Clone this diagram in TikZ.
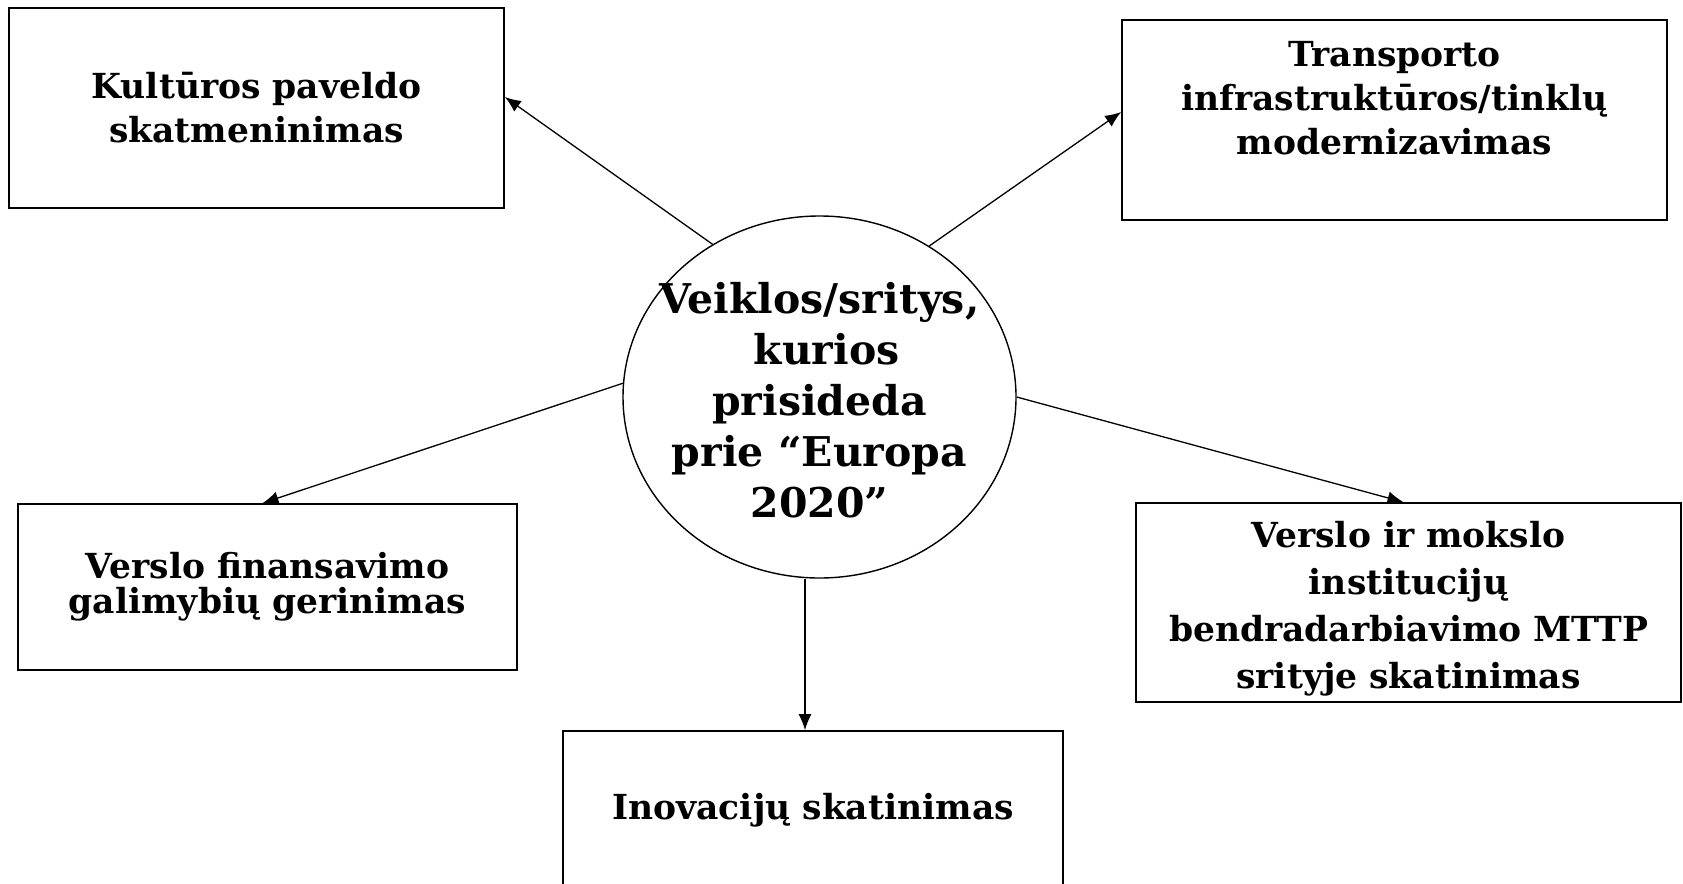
\documentclass[tikz,border=0pt]{standalone}
\usepackage{fontspec}
\setmainfont{DejaVu Serif}
\usetikzlibrary{shapes.geometric,arrows.meta}
\tikzset{
  box/.style={draw, line width=1.7pt, inner sep=0pt, align=center},
  hub/.style={draw, ellipse, line width=1.4pt, inner sep=0pt, minimum width=393pt, minimum height=362pt},
  txt/.style={inner sep=0pt, align=center},
  arr/.style={line width=1.3pt, -{Latex[length=16pt,width=13pt]}}
}
\begin{document}
\begin{tikzpicture}[x=1pt,y=-1pt,font=\bfseries\fontsize{34.5}{44}\selectfont]
		\useasboundingbox (0,0) rectangle (1683,883);
		%\draw[help lines] (0,0) grid[step=100] (1683,883);
		\node[hub] (veikla) at (819.5,397) {};
		\node[txt, font=\bfseries\fontsize{41}{51}\selectfont] (veiklatxt) at (819.5,400) {Veiklos/sritys,\\ \ kurios\\ prisideda\\ prie “Europa\\ 2020”};
		
		\node[box, minimum width=495pt, minimum height=200pt] (kultura) at (256.5,108) {Kultūros paveldo\\ skatmeninimas};%top left
		\node[box, minimum width=545pt, minimum height=200pt] (transp) at (1394.5,120) {};%top right
		\node[txt] (transptxt) at (1394.5,98) {Transporto\\ infrastruktūros/tinklų\\ modernizavimas};
		\node[box, minimum width=499pt, minimum height=166pt, font=\bfseries\fontsize{34.5}{35}\selectfont] (finans) at (267.5,587) {Verslo finansavimo\\ galimybių gerinimas};
		\node[box, minimum width=545pt, minimum height=199pt] (mokslas) at (1408.5,602.5) {};
		\node[txt, font=\bfseries\fontsize{34.5}{47}\selectfont] (mokslastxt) at (1408.5,609) {Verslo ir mokslo\\ institucijų\\ bendradarbiavimo MTTP\\ srityje skatinimas};
		\node[box, minimum width=500pt, minimum height=158pt] (inov) at (813,810) {Inovacijų skatinimas};%runs off the page
		
		\draw[arr] (veikla.125) -- ([yshift=11pt]kultura.east);
		\draw[arr] (veikla.54.5) -- ([yshift=8pt]transp.west);
		\draw[arr] (veikla.176) -- ([xshift=-5pt]finans.north);
		\draw[arr] (veikla.0) -- ([xshift=-5pt]mokslas.north);
		\coordinate (inovtop) at ([xshift=-8pt]inov.north);
		\draw[arr] (veikla.south -| inovtop) -- (inovtop);
\end{tikzpicture}
\end{document}
